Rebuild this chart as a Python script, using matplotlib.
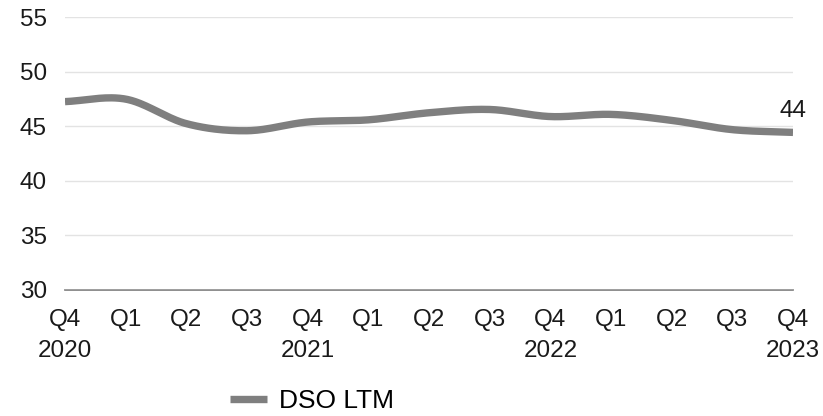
import matplotlib.pyplot as plt
import numpy as np

plt.rcParams['font.family'] = ['Liberation Sans', 'DejaVu Sans']

quarters = ['Q4', 'Q1', 'Q2', 'Q3', 'Q4', 'Q1', 'Q2', 'Q3', 'Q4', 'Q1', 'Q2', 'Q3', 'Q4']
years = ['2020', '', '', '', '2021', '', '', '', '2022', '', '', '', '2023']
dso_ltm = [47.27, 47.5, 45.25, 44.6, 45.4, 45.6, 46.25, 46.55, 45.9, 46.1, 45.55, 44.7, 44.45]
end_label = '44'


def catmull_rom(x, y, n=30):
    # smooth line through the points, like the spreadsheet "smoothed line"
    px = np.concatenate([[2 * x[0] - x[1]], x, [2 * x[-1] - x[-2]]])
    py = np.concatenate([[2 * y[0] - y[1]], y, [2 * y[-1] - y[-2]]])
    xs, ys = [], []
    for i in range(1, len(px) - 2):
        t = np.linspace(0, 1, n, endpoint=False)
        for p, out in ((px, xs), (py, ys)):
            p0, p1, p2, p3 = p[i - 1], p[i], p[i + 1], p[i + 2]
            out.extend(0.5 * (2 * p1 + (-p0 + p2) * t
                              + (2 * p0 - 5 * p1 + 4 * p2 - p3) * t ** 2
                              + (-p0 + 3 * p1 - 3 * p2 + p3) * t ** 3))
    xs.append(x[-1])
    ys.append(y[-1])
    return np.array(xs), np.array(ys)


x = np.arange(len(dso_ltm), dtype=float)
sx, sy = catmull_rom(x, np.array(dso_ltm))

fig = plt.figure(figsize=(8.23, 4.16), dpi=100)
ax = fig.add_axes([65 / 823, 1 - 290 / 416, (793 - 65) / 823, (290 - 17.3) / 416])

ax.plot(sx, sy, color='#7f7f7f', lw=5.3, solid_capstyle='butt', label='DSO LTM')
ax.annotate(end_label, (x[-1], dso_ltm[-1]), xytext=(0, 11), textcoords='offset points',
            ha='center', va='baseline', fontsize=17.5, color='#1a1a1a')

ax.set_ylim(30, 55)
ax.set_xlim(x[0], x[-1])
ax.set_yticks(range(30, 56, 5))
ax.set_xticks(x)
ax.set_xticklabels([q + '\n' + yr for q, yr in zip(quarters, years)], linespacing=1.5)
ax.tick_params(axis='both', length=0, labelsize=17.5, colors='#1a1a1a')
ax.tick_params(axis='x', pad=14)
ax.tick_params(axis='y', pad=13)

ax.grid(axis='y', color='#e3e3e3', lw=1)
for s in ['top', 'right', 'left']:
    ax.spines[s].set_visible(False)
ax.spines['bottom'].set_color('#7a7a7a')
ax.spines['bottom'].set_linewidth(1.2)
ax.spines['bottom'].set_zorder(0.5)

fig.legend(loc='center', bbox_to_anchor=(312 / 823, 1 - 401 / 416), frameon=False,
           fontsize=19, handlelength=1.4, handletextpad=0.45)

fig.savefig('out.png', dpi=100)
